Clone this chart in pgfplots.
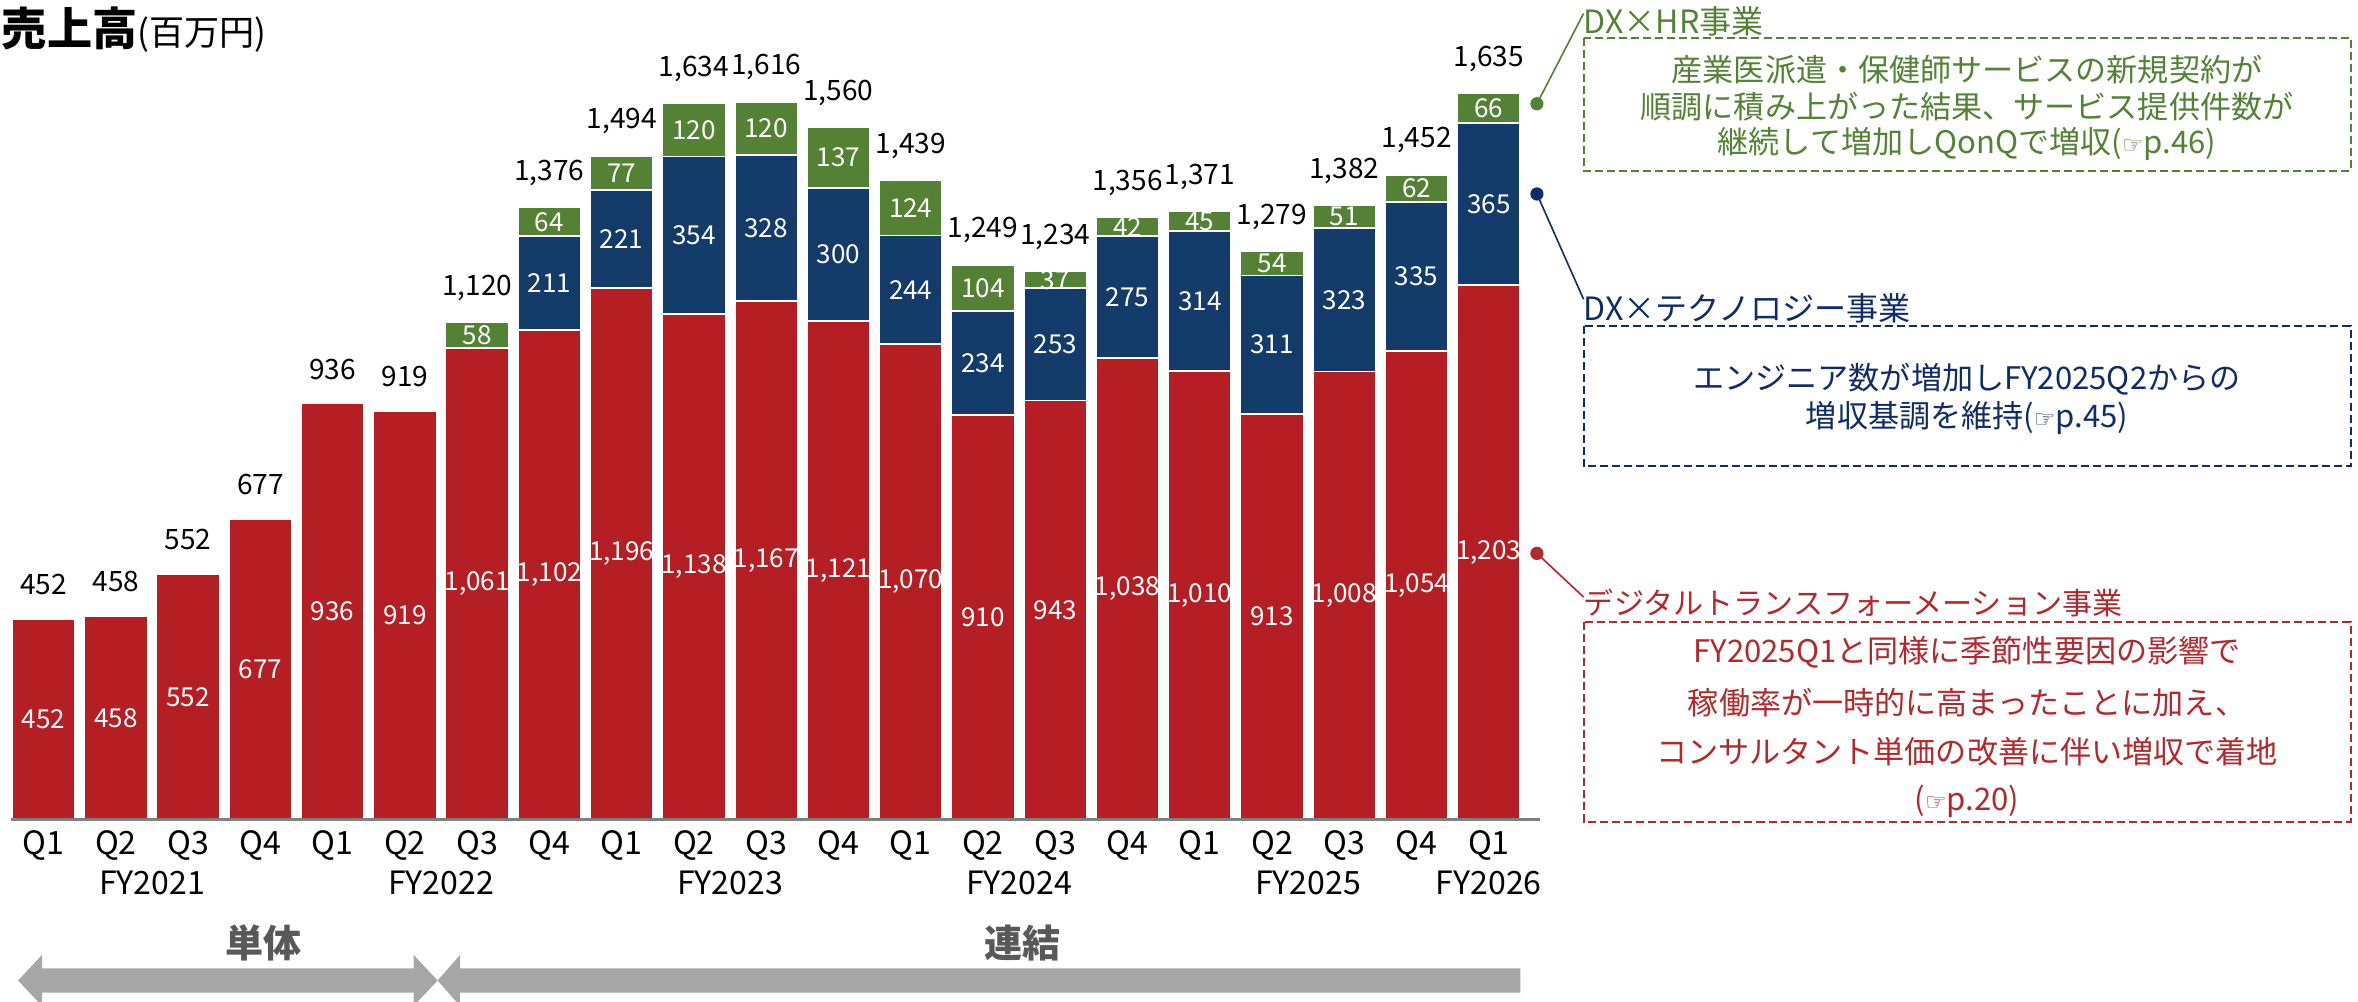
\documentclass[border=0pt]{standalone}
\usepackage{pgfplots}
\pgfplotsset{compat=1.18}
\usepackage{pgfplotstable}
\usepackage{fontspec}
\setmainfont{Noto Sans CJK JP}
\newfontfamily\symfont{DejaVu Sans}
\definecolor{cred}{HTML}{B51F24}
\definecolor{cblue}{HTML}{133C6A}
\definecolor{cgreen}{HTML}{548235}
\definecolor{tred}{HTML}{B3282D}
\definecolor{tblue}{HTML}{0F2C69}
\definecolor{tgreen}{HTML}{548235}
\definecolor{agray}{HTML}{A6A6A6}
\definecolor{lgray}{HTML}{595959}
\definecolor{bgray}{HTML}{7F7F7F}

\pgfplotstableread{
x red blue green total
0 452 0 0 452
1 458 0 0 458
2 552 0 0 552
3 677 0 0 677
4 936 0 0 936
5 919 0 0 919
6 1061 0 58 1120
7 1102 211 64 1376
8 1196 221 77 1494
9 1138 354 120 1634
10 1167 328 120 1616
11 1121 300 137 1560
12 1070 244 124 1439
13 910 234 104 1249
14 943 253 37 1234
15 1038 275 42 1356
16 1010 314 45 1371
17 913 311 54 1279
18 1008 323 51 1382
19 1054 335 62 1452
20 1203 365 66 1635
}\sales

\newcommand{\pg}{{\symfont\fontsize{12}{12}\selectfont ☞}}

\pgfplotsset{
  base/.style={
    scale only axis, width=756.8pt, height=376.8pt,
    xmin=-0.5, xmax=20.5, ymin=0, ymax=1700,
    at={(3.73pt,90.75pt)}, anchor=south west,
  },
  numlab/.style={
    draw=none, mark=none,
    nodes near coords={\pgfmathprintnumber[assume math mode=true,fixed,precision=0,1000 sep={,}]{\pgfplotspointmeta}},
    every node near coord/.append style={anchor=center, text=white, font=\fontsize{13}{13}\selectfont, inner sep=0pt},
  },
}

\begin{document}
\begin{tikzpicture}
\useasboundingbox (0,0) rectangle (1176pt,499.5pt);
\begin{axis}[base, hide axis, ybar stacked, bar width=0.874,
  every axis plot/.append style={draw=white, line width=0.9pt}]
\addplot[fill=cred] table[x=x,y=red]{\sales};
\addplot[fill=cblue] table[x=x,y=blue]{\sales};
\addplot[fill=cgreen] table[x=x,y=green]{\sales};
\end{axis}
\begin{axis}[base, clip=false, axis x line*=bottom, axis y line=none,
  x axis line style={-, bgray, line width=1.5pt, shorten >=-7.5pt, shorten <=2pt},
  xtick={0,...,20},
  xticklabels={Q1,Q2,Q3,Q4,Q1,Q2,Q3,Q4,Q1,Q2,Q3,Q4,Q1,Q2,Q3,Q4,Q1,Q2,Q3,Q4,Q1},
  major tick length=0pt, ytick=\empty,
  xticklabel style={anchor=center, yshift=-12.75pt, font=\fontsize{16}{16}\selectfont},
  extra x ticks={1.5,5.5,9.5,13.5,17.5,20},
  extra x tick labels={FY2021,FY2022,FY2023,FY2024,FY2025,FY2026},
  extra x tick style={xticklabel style={yshift=-18.75pt}},
  ]
\addplot[numlab, point meta=\thisrow{red}] table[x=x, y expr=\thisrow{red}/2]{\sales};
\addplot[numlab, point meta=\thisrow{blue}, skip coords between index={0}{7}] table[x=x, y expr=\thisrow{red}+\thisrow{blue}/2]{\sales};
\addplot[numlab, point meta=\thisrow{green}, skip coords between index={0}{6}] table[x=x, y expr=\thisrow{red}+\thisrow{blue}+\thisrow{green}/2]{\sales};
\addplot[numlab, point meta=\thisrow{total}, every node near coord/.append style={text=black, font=\fontsize{14}{14}\selectfont, yshift=17.25pt}] table[x=x, y expr=\thisrow{red}+\thisrow{blue}+\thisrow{green}]{\sales};
\end{axis}

\begin{scope}[x=0.75pt, y=-0.75pt, yshift=499.5pt]
% title
\node[anchor=west, inner sep=0pt] at (1,20) {\fontsize{22.5}{22.5}\selectfont\bfseries 売上高\mdseries\fontsize{17.5}{17.5}\selectfont (百万円)};
% green
\draw[tgreen, line width=0.8pt] (1022,69) -- (1053,9);
\fill[tgreen] (1022,69) circle (3.3pt);
\node[anchor=west, inner sep=0pt, text=tgreen] at (1053,14) {\fontsize{16}{16}\selectfont DX×HR事業};
\draw[tgreen, line width=1pt, dash pattern=on 4pt off 2pt] (1053,25) rectangle (1563,113.5);
\node[text=tgreen, inner sep=0pt] at (1308,46.5) {\fontsize{15.5}{15.5}\selectfont 産業医派遣・保健師サービスの新規契約が};
\node[text=tgreen, inner sep=0pt] at (1308,71) {\fontsize{15.5}{15.5}\selectfont 順調に積み上がった結果、サービス提供件数が};
\node[text=tgreen, inner sep=0pt] at (1308,96) {\fontsize{15.5}{15.5}\selectfont 継続して増加しQonQで増収(\pg p.46)};
% navy
\draw[tblue, line width=0.8pt] (1022,129) -- (1053,199);
\fill[tblue] (1022,129) circle (3.3pt);
\node[anchor=west, inner sep=0pt, text=tblue] at (1053,205) {\fontsize{16}{16}\selectfont DX×テクノロジー事業};
\draw[tblue, line width=1pt, dash pattern=on 4pt off 2pt] (1053,217) rectangle (1563,310);
\node[text=tblue, inner sep=0pt] at (1308,252.5) {\fontsize{15.5}{15.5}\selectfont エンジニア数が増加しFY2025Q2からの};
\node[text=tblue, inner sep=0pt] at (1308,278) {\fontsize{15.5}{15.5}\selectfont 増収基調を維持(\pg p.45)};
% red
\draw[tred, line width=0.8pt] (1022,368) -- (1053,397);
\fill[tred] (1022,368) circle (3.3pt);
\node[anchor=west, inner sep=0pt, text=tred] at (1053,401) {\fontsize{15}{15}\selectfont デジタルトランスフォーメーション事業};
\draw[tred, line width=1pt, dash pattern=on 4pt off 2pt] (1053,413.5) rectangle (1563,546.5);
\node[text=tred, inner sep=0pt] at (1308,433.5) {\fontsize{15.5}{15.5}\selectfont FY2025Q1と同様に季節性要因の影響で};
\node[text=tred, inner sep=0pt] at (1308,467) {\fontsize{15.5}{15.5}\selectfont 稼働率が一時的に高まったことに加え、};
\node[text=tred, inner sep=0pt] at (1308,500) {\fontsize{15.5}{15.5}\selectfont コンサルタント単価の改善に伴い増収で着地};
\node[text=tred, inner sep=0pt] at (1308,533) {\fontsize{15.5}{15.5}\selectfont (\pg p.20)};
% bottom arrows
\node[text=lgray, inner sep=0pt] at (175,627) {\fontsize{19}{19}\selectfont\bfseries 単体};
\node[text=lgray, inner sep=0pt] at (680,627) {\fontsize{19}{19}\selectfont\bfseries 連結};
\fill[agray] (12,652) -- (28,635) -- (28,644) -- (275,644) -- (275,635) -- (291,652) -- (275,669) -- (275,660) -- (28,660) -- (28,669) -- cycle;
\fill[agray] (291,652) -- (306,635) -- (306,644) -- (1011,644) -- (1011,660) -- (306,660) -- (306,669) -- cycle;
\end{scope}
\end{tikzpicture}
\end{document}
